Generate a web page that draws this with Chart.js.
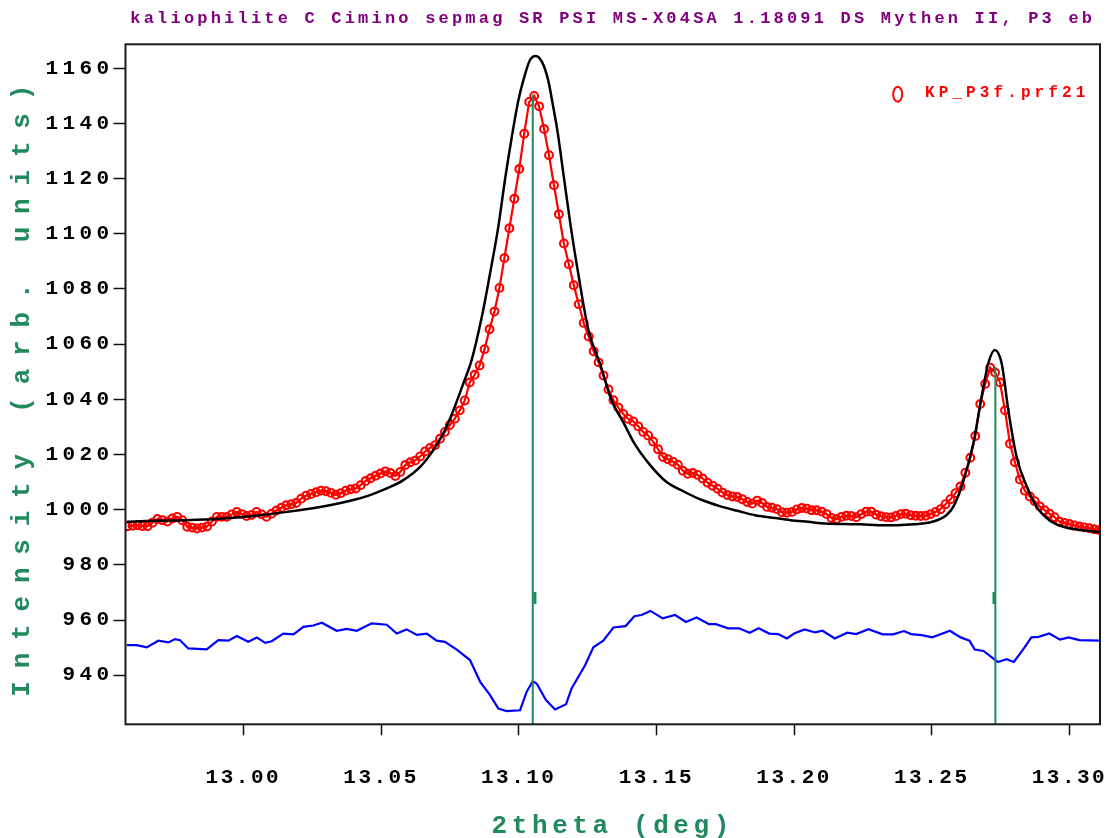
<!DOCTYPE html>
<html>
<head>
<meta charset="utf-8">
<title>kaliophilite C Cimino - KP_P3f.prf21</title>
<script src="https://cdn.jsdelivr.net/npm/chart.js@4.4.0/dist/chart.umd.min.js"></script>
<style>
  html, body { margin: 0; padding: 0; background: #fff; }
  #wrap { width: 1114px; height: 838px; }
</style>
</head>
<body>
<div id="wrap"><canvas id="profile" width="1114" height="838"></canvas></div>
<script>
// Rietveld plot: observed (red circles), calculated (black), difference (blue), Bragg markers (green)
const chartTitle = "kaliophilite C Cimino sepmag SR PSI MS-X04SA 1.18091 DS Mythen II, P3 eb";
const xTitle = "2theta (deg)";
const yTitle = "Intensity (arb. units)";
const obsLabel = "KP_P3f.prf21";

const xRange = [12.9572, 13.3111];
const yRange = [922.2, 1168.7];
const xTicks = [13.00, 13.05, 13.10, 13.15, 13.20, 13.25, 13.30];
const yTicks = [940, 960, 980, 1000, 1020, 1040, 1060, 1080, 1100, 1120, 1140, 1160];

// observed step scan
const obsStart = 12.958;
const obsStep = 0.0018;
const obsIntensity = [
  994.0, 994.2, 994.4, 994.1, 994.0, 995.3, 996.6, 996.2, 995.7, 996.8,
  997.4, 996.2, 993.8, 993.5, 993.2, 993.5, 993.9, 995.7, 997.4, 997.4,
  997.4, 998.3, 999.2, 998.4, 997.7, 998.1, 999.2, 998.3, 997.4, 998.5,
  999.7, 1000.7, 1001.6, 1002.0, 1002.4, 1004.0, 1005.1, 1005.7, 1006.3, 1006.9,
  1006.7, 1006.1, 1005.4, 1006.0, 1006.9, 1007.4, 1007.7, 1008.9, 1010.4, 1011.4,
  1012.3, 1013.1, 1013.9, 1013.3, 1012.2, 1013.7, 1016.2, 1017.2, 1017.8, 1019.3,
  1021.1, 1022.4, 1023.4, 1025.7, 1028.2, 1030.7, 1033.0, 1036.0, 1039.6, 1046.1,
  1048.9, 1052.3, 1058.2, 1065.4, 1071.8, 1080.4, 1091.2, 1102.0, 1112.7, 1123.5,
  1136.3, 1147.8, 1150.0, 1146.2, 1138.0, 1128.5, 1117.6, 1107.1, 1096.5, 1089.0,
  1081.4, 1074.5, 1067.7, 1062.8, 1057.4, 1053.4, 1048.6, 1043.6, 1039.7, 1037.0,
  1034.7, 1032.9, 1032.0, 1030.2, 1028.2, 1026.9, 1024.7, 1021.9, 1019.1, 1018.3,
  1017.4, 1016.3, 1014.1, 1013.0, 1013.3, 1012.6, 1011.3, 1009.8, 1008.7, 1007.6,
  1006.2, 1005.3, 1004.8, 1004.6, 1003.8, 1002.8, 1002.2, 1003.3, 1002.4, 1001.0,
  1000.7, 1000.2, 999.1, 998.9, 999.2, 1000.1, 1000.6, 1000.4, 999.8, 999.8,
  999.3, 998.4, 997.0, 996.6, 997.4, 997.8, 997.7, 997.3, 998.4, 999.3,
  999.3, 998.2, 997.6, 997.3, 997.2, 997.7, 998.4, 998.5, 998.0, 997.8,
  997.7, 997.8, 998.4, 999.2, 1000.2, 1002.0, 1003.8, 1006.0, 1008.4, 1013.4,
  1018.8, 1026.7, 1038.3, 1045.6, 1051.5, 1049.7, 1046.1, 1036.0, 1023.9, 1017.2,
  1010.9, 1006.9, 1004.8, 1003.1, 1001.2, 999.8, 998.5, 997.3, 995.6, 995.2,
  994.8, 994.3, 993.9, 993.6, 993.3, 992.9, 992.6
];

// calculated profile
const calcTheta = [
  12.9577, 12.9673, 12.9794, 12.9915, 13.0036, 13.0158, 13.0279, 13.0399, 13.0460, 13.0521,
  13.0581, 13.0642, 13.0690, 13.0726, 13.0763, 13.0799, 13.0829, 13.0866, 13.0896, 13.0926,
  13.0950, 13.0975, 13.0999, 13.1017, 13.1041, 13.1062, 13.1084, 13.1107, 13.1123, 13.1142,
  13.1162, 13.1189, 13.1216, 13.1253, 13.1295, 13.1337, 13.1382, 13.1420, 13.1472, 13.1536,
  13.1601, 13.1665, 13.1730, 13.1794, 13.1858, 13.1923, 13.1987, 13.2051, 13.2116, 13.2180,
  13.2244, 13.2309, 13.2373, 13.2438, 13.2502, 13.2553, 13.2578, 13.2614, 13.2651, 13.2681,
  13.2705, 13.2729, 13.2754, 13.2778, 13.2808, 13.2845, 13.2881, 13.2927, 13.2978, 13.3043,
  13.3110
];
const calcIntensity = [
  995.6, 996.0, 996.2, 996.7, 997.7, 999.2, 1001.0, 1003.5, 1005.3, 1007.7,
  1010.7, 1015.5, 1021.6, 1027.6, 1036.1, 1045.8, 1054.2, 1069.9, 1085.7, 1102.6,
  1119.5, 1135.2, 1148.5, 1155.7, 1163.0, 1164.5, 1162.4, 1155.7, 1147.3, 1136.4,
  1121.9, 1102.6, 1085.7, 1065.1, 1053.0, 1039.7, 1031.3, 1024.0, 1016.8, 1010.1,
  1006.5, 1003.5, 1001.3, 999.6, 998.0, 997.1, 996.2, 995.6, 995.0, 994.8,
  994.7, 994.4, 994.4, 994.7, 995.6, 998.0, 1001.0, 1010.1, 1024.0, 1040.9,
  1053.0, 1057.9, 1053.0, 1036.1, 1019.2, 1008.4, 1001.0, 996.2, 993.8, 992.6,
  991.8
];

// difference curve (obs - calc, shifted)
const diffTheta = [
  12.9577, 12.9613, 12.9649, 12.9691, 12.9728, 12.9752, 12.9770, 12.9800, 12.9867, 12.9909,
  12.9946, 12.9976, 13.0018, 13.0049, 13.0079, 13.0103, 13.0145, 13.0182, 13.0218, 13.0254,
  13.0285, 13.0339, 13.0375, 13.0412, 13.0466, 13.0521, 13.0557, 13.0593, 13.0630, 13.0666,
  13.0702, 13.0732, 13.0775, 13.0823, 13.0860, 13.0896, 13.0926, 13.0956, 13.1005, 13.1029,
  13.1051, 13.1065, 13.1099, 13.1132, 13.1172, 13.1192, 13.1241, 13.1271, 13.1307, 13.1344,
  13.1388, 13.1420, 13.1446, 13.1478, 13.1523, 13.1568, 13.1607, 13.1646, 13.1691, 13.1716,
  13.1761, 13.1800, 13.1839, 13.1871, 13.1910, 13.1942, 13.1974, 13.2000, 13.2038, 13.2077,
  13.2103, 13.2148, 13.2193, 13.2225, 13.2270, 13.2322, 13.2360, 13.2399, 13.2425, 13.2463,
  13.2502, 13.2566, 13.2605, 13.2637, 13.2656, 13.2688, 13.2740, 13.2772, 13.2798, 13.2830,
  13.2862, 13.2888, 13.2927, 13.2966, 13.2997, 13.3036, 13.3110
];
const diffIntensity = [
  950.9, 950.9, 950.1, 952.5, 951.9, 953.1, 952.7, 949.7, 949.4, 952.7,
  952.5, 954.2, 952.1, 953.7, 951.7, 952.3, 955.1, 954.8, 957.5, 958.0,
  959.0, 956.1, 956.8, 956.1, 958.8, 958.3, 955.1, 956.6, 954.6, 955.1,
  952.5, 952.1, 949.3, 945.5, 937.6, 932.8, 927.9, 927.0, 927.3, 934.0,
  937.8, 937.0, 931.0, 927.6, 929.5, 935.2, 943.6, 950.1, 952.5, 957.3,
  957.8, 961.4, 961.8, 963.3, 960.6, 961.8, 959.3, 960.9, 958.5, 958.5,
  957.0, 957.0, 955.4, 957.0, 955.1, 954.9, 953.3, 955.1, 956.6, 955.5,
  956.1, 953.3, 955.4, 954.9, 956.7, 954.8, 954.8, 956.0, 954.9, 954.5,
  953.7, 956.1, 953.7, 952.5, 949.3, 948.8, 944.8, 945.8, 944.8, 949.1,
  953.7, 953.9, 955.1, 952.9, 953.7, 952.7, 952.5
];

// Bragg reflections
const braggPos = [13.1051, 13.2731];
const braggTop = [1150.5, 1051.7];
const braggTickPos = [13.1059, 13.2726];
const braggTickSpan = [965.8, 970.2];

const RED = "#ff0000";
const GREEN = "#208a5c";
const FONT = "'Liberation Mono', 'DejaVu Sans Mono', monospace";

// letter spacing of the old plot fonts (canvas letterSpacing, wrapped round the draw calls)
function withSpacing(target, method, px) {
  if (!target || !target[method] || target[method].__spaced) return;
  const orig = target[method];
  const wrapped = function (...args) {
    const ctx = this.ctx;
    const prev = ctx.letterSpacing;
    ctx.letterSpacing = px + "px";
    const r = orig.apply(this, args);
    ctx.letterSpacing = prev || "0px";
    return r;
  };
  wrapped.__spaced = true;
  target[method] = wrapped;
}

const plotFrame = {
  id: "plotFrame",
  beforeUpdate(chart) {
    withSpacing(chart.titleBlock, "draw", 3.2);
    withSpacing(chart.scales.x, "drawLabels", 2.5);
    withSpacing(chart.scales.x, "drawTitle", 4.6);
    withSpacing(chart.scales.y, "drawLabels", 4.4);
    withSpacing(chart.scales.y, "drawTitle", 12.8);
  },
  afterLayout(chart) {
    this.beforeUpdate(chart);
  },
  afterDraw(chart) {
    const { ctx, chartArea: a } = chart;
    ctx.save();
    ctx.strokeStyle = "#1a1a1a";
    ctx.lineWidth = 2;
    ctx.strokeRect(a.left, a.top, a.right - a.left, a.bottom - a.top);

    // legend entry, top right inside the frame
    const label = chart.data.datasets[0].label;
    ctx.strokeStyle = RED;
    ctx.lineWidth = 2;
    ctx.beginPath();
    ctx.ellipse(a.right - 202.3, a.top + 50, 4.5, 7.5, 0, 0, Math.PI * 2);
    ctx.stroke();
    ctx.font = "bold 16px " + FONT;
    ctx.fillStyle = RED;
    ctx.textAlign = "left";
    ctx.textBaseline = "alphabetic";
    ctx.letterSpacing = "4.1px";
    ctx.fillText(label, a.right - 175, a.top + 52.4);
    ctx.restore();
  }
};

const obsPoints = obsIntensity.map((v, i) => ({ x: obsStart + i * obsStep, y: v }));
const calcPoints = calcTheta.map((t, i) => ({ x: t, y: calcIntensity[i] }));
const diffPoints = diffTheta.map((t, i) => ({ x: t, y: diffIntensity[i] }));
const braggLines = braggPos.flatMap((t, i) => [
  { x: t, y: yRange[0] }, { x: t, y: braggTop[i] }, { x: t, y: null }
]);
const braggTicks = braggTickPos.flatMap(t => [
  { x: t, y: braggTickSpan[0] }, { x: t, y: braggTickSpan[1] }, { x: t, y: null }
]);

const ctx = document.getElementById("profile").getContext("2d");
const chart = new Chart(ctx, {
  type: "line",
  data: {
    datasets: [
      {
        label: obsLabel,
        data: obsPoints,
        borderColor: RED,
        borderWidth: 2.2,
        pointRadius: 3.9,
        pointBorderWidth: 2.1,
        pointBorderColor: RED,
        pointBackgroundColor: "rgba(255,255,255,0)",
        tension: 0,
        order: 2
      },
      {
        label: "calc",
        data: calcPoints,
        borderColor: "#000000",
        borderWidth: 2.5,
        pointRadius: 0,
        cubicInterpolationMode: "monotone",
        order: 1
      },
      {
        label: "obs-calc",
        data: diffPoints,
        borderColor: "#0000ff",
        borderWidth: 2.2,
        pointRadius: 0,
        tension: 0,
        order: 3
      },
      {
        label: "Bragg lines",
        data: braggLines,
        borderColor: GREEN,
        borderWidth: 2,
        pointRadius: 0,
        spanGaps: false,
        order: 0
      },
      {
        label: "Bragg ticks",
        data: braggTicks,
        borderColor: GREEN,
        borderWidth: 3,
        pointRadius: 0,
        spanGaps: false,
        order: 0
      }
    ]
  },
  options: {
    responsive: false,
    animation: false,
    layout: { padding: { left: 0, right: 14, top: 0, bottom: 0 } },
    plugins: {
      legend: { display: false },
      tooltip: { enabled: false },
      title: {
        display: true,
        text: chartTitle,
        color: "#800080",
        fullSize: false,
        font: { family: FONT, size: 17, weight: "bold", lineHeight: 1.2 },
        padding: { top: 8.3, bottom: 15.6 }
      }
    },
    scales: {
      x: {
        type: "linear",
        min: xRange[0],
        max: xRange[1],
        afterBuildTicks: s => { s.ticks = xTicks.map(v => ({ value: v })); },
        afterFit: s => { s.height = 113.7; s.paddingLeft = 0; s.paddingRight = 0; },
        border: { display: false },
        grid: {
          drawOnChartArea: false,
          drawTicks: true,
          tickLength: 11,
          tickColor: "#111",
          tickWidth: 1.5
        },
        ticks: {
          color: "#000",
          padding: 30.1,
          maxRotation: 0,
          autoSkip: false,
          font: { family: FONT, size: 21, weight: "bold", lineHeight: 1.2 },
          callback: v => v.toFixed(2)
        },
        title: {
          display: true,
          text: xTitle,
          color: GREEN,
          padding: 0,
          font: { family: FONT, size: 26, weight: "bold", lineHeight: 0.923 }
        }
      },
      y: {
        type: "linear",
        min: yRange[0],
        max: yRange[1],
        afterBuildTicks: s => { s.ticks = yTicks.map(v => ({ value: v })); },
        afterFit: s => { s.width = 125.5; s.paddingTop = 0; s.paddingBottom = 0; },
        border: { display: false },
        grid: {
          drawOnChartArea: false,
          drawTicks: true,
          tickLength: 12,
          tickColor: "#111",
          tickWidth: 1.5
        },
        ticks: {
          color: "#000",
          padding: 0,
          autoSkip: false,
          font: { family: FONT, size: 21, weight: "bold" },
          callback: v => String(v)
        },
        title: {
          display: true,
          text: yTitle,
          color: GREEN,
          padding: { top: 10, bottom: 0 },
          font: { family: FONT, size: 26, weight: "bold", lineHeight: 0.923 }
        }
      }
    }
  },
  plugins: [plotFrame]
});
</script>
</body>
</html>
